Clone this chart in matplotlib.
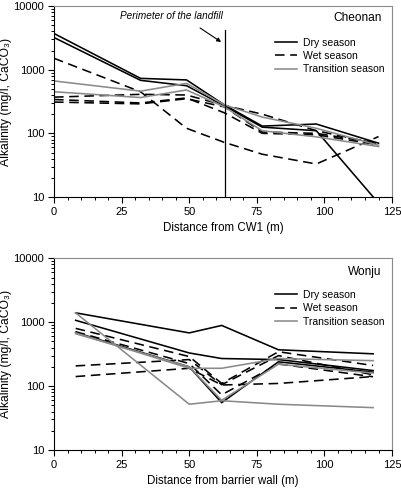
import numpy as np
import matplotlib
matplotlib.use("Agg")
import matplotlib.pyplot as plt
from matplotlib.ticker import MultipleLocator, LogLocator, NullFormatter, FixedLocator

plt.rcParams['font.family'] = ['Liberation Sans', 'DejaVu Sans']

# Cheonan data (distance from CW1, m)
cheonan_x = [0, 32, 49, 63, 77, 97, 120]
cheonan_dry = [
    [3700, 730, 690, 280, 130, 140, 70],
    [3200, 680, 560, 270, 125, 110, 8],
]
cheonan_wet = [
    [1510, 450, 120, 72, 47, 33, 89],
    [370, 410, 400, 275, 200, 110, 68],
    [340, 300, 360, 210, 100, 95, 66],
    [310, 290, 350, 260, 105, 100, 70],
]
cheonan_trans = [
    [665, 460, 610, 280, 180, 120, 65],
    [450, 365, 480, 260, 110, 88, 62],
]

# Wonju data (distance from barrier wall, m)
wonju_x = [8, 50, 62, 83, 118]
wonju_dry = [
    [1400, 680, 890, 370, 320],
    [1070, 330, 270, 260, 175],
    [690, 200, 55, 240, 165],
]
wonju_wet = [
    [800, 290, 110, 345, 210],
    [710, 225, 73, 222, 140],
    [207, 260, 105, 300, 150],
    [141, 190, 104, 110, 141],
]
wonju_trans = [
    [1400, 52, 59, 52, 46],
    [680, 190, 190, 270, 250],
    [660, 200, 60, 220, 160],
]

labels = ['Dry season', 'Wet season', 'Transition season']
grey = '#8a8a8a'


def draw(ax, x, dry, wet, trans, xlabel, site, site_y, leg_y):
    for y in dry:
        ax.plot(x, y, color='black', lw=1.15, label=labels[0])
    for y in wet:
        ax.plot(x, y, color='black', lw=1.15, dashes=(6, 3.5), label=labels[1])
    for y in trans:
        ax.plot(x, y, color=grey, lw=1.15, label=labels[2])

    ax.set_yscale('log')
    ax.set_ylim(10, 10000)
    ax.set_xlim(0, 125)
    ax.xaxis.set_major_locator(MultipleLocator(25))
    ax.xaxis.set_minor_locator(MultipleLocator(5))
    ax.yaxis.set_major_locator(FixedLocator([10, 100, 1000, 10000]))
    ax.set_yticklabels(['10', '100', '1000', '10000'])
    ax.yaxis.set_minor_locator(LogLocator(base=10, subs=np.arange(2, 10)))
    ax.yaxis.set_minor_formatter(NullFormatter())
    ax.tick_params(which='major', direction='out', length=4, width=0.8, labelsize=8, pad=3)
    ax.tick_params(which='minor', direction='out', length=2.5, width=0.7)
    for s in ['top', 'right']:
        ax.spines[s].set_color(grey)
        ax.spines[s].set_linewidth(0.8)
    for s in ['left', 'bottom']:
        ax.spines[s].set_linewidth(0.8)

    ax.set_xlabel(xlabel, fontsize=8.3, labelpad=4)
    ax.set_ylabel('Alkalinity (mg/l, CaCO₃)', fontsize=8.7, labelpad=1)
    ax.text(0.970, site_y, site, transform=ax.transAxes, ha='right', va='center', fontsize=8.6)

    h, l = ax.get_legend_handles_labels()
    handles = [h[l.index(lab)] for lab in labels]
    ax.legend(handles, labels, loc='upper left', bbox_to_anchor=(0.654, leg_y),
              frameon=False, fontsize=7.5, handlelength=2.1, handletextpad=0.55,
              labelspacing=0.32, borderpad=0, borderaxespad=0)


fig = plt.figure(figsize=(4.01, 4.88), dpi=100)
ax1 = fig.add_axes([0.1347, 0.5963, 0.843, 0.3914])
ax2 = fig.add_axes([0.1347, 0.0779, 0.843, 0.3928])

draw(ax1, cheonan_x, cheonan_dry, cheonan_wet, cheonan_trans,
     'Distance from CW1 (m)', 'Cheonan', 0.937, 0.835)
draw(ax2, wonju_x, wonju_dry, wonju_wet, wonju_trans,
     'Distance from barrier wall (m)', 'Wonju', 0.927, 0.835)

# landfill perimeter marker
ax1.plot([63.3, 63.3], [10, 4200], color='black', lw=0.9)
ax1.text(43.6, 6960, 'Perimeter of the landfill', ha='center', va='center',
         fontsize=7.2, style='italic')
ax1.annotate('', xy=(61.8, 2720), xytext=(54.0, 4520),
             arrowprops=dict(arrowstyle='-|>', color='black', lw=0.8,
                             mutation_scale=6, shrinkA=0, shrinkB=0))

fig.savefig('out.png', dpi=100)
